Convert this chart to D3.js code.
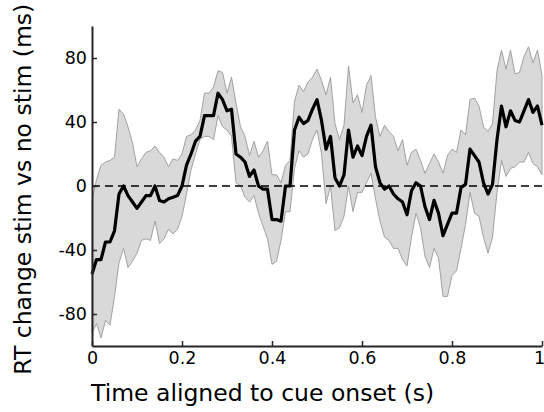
<!DOCTYPE html>
<html>
<head>
<meta charset="utf-8">
<script src="https://cdn.jsdelivr.net/npm/d3@7"></script>
<style>
  body { margin: 0; background: #fff; }
  svg { display: block; font-family: 'DejaVu Sans', sans-serif; }
</style>
</head>
<body>
<div id="chart"></div>
<script>
// time points, 0 to 1 s in 10 ms steps
var times = [
  0.00, 0.01, 0.02, 0.03, 0.04, 0.05, 0.06, 0.07, 0.08, 0.09,
  0.10, 0.11, 0.12, 0.13, 0.14, 0.15, 0.16, 0.17, 0.18, 0.19,
  0.20, 0.21, 0.22, 0.23, 0.24, 0.25, 0.26, 0.27, 0.28, 0.29,
  0.30, 0.31, 0.32, 0.33, 0.34, 0.35, 0.36, 0.37, 0.38, 0.39,
  0.40, 0.41, 0.42, 0.43, 0.44, 0.45, 0.46, 0.47, 0.48, 0.49,
  0.50, 0.51, 0.52, 0.53, 0.54, 0.55, 0.56, 0.57, 0.58, 0.59,
  0.60, 0.61, 0.62, 0.63, 0.64, 0.65, 0.66, 0.67, 0.68, 0.69,
  0.70, 0.71, 0.72, 0.73, 0.74, 0.75, 0.76, 0.77, 0.78, 0.79,
  0.80, 0.81, 0.82, 0.83, 0.84, 0.85, 0.86, 0.87, 0.88, 0.89,
  0.90, 0.91, 0.92, 0.93, 0.94, 0.95, 0.96, 0.97, 0.98, 0.99,
  1.00
];

// mean RT change (ms)
var meanRT = [
  -55, -46, -46, -35, -35, -28, -5, 0, -6, -10,
  -14, -10, -6, -6, 0, -9, -10, -8, -7, -6,
  0, 13, 20, 28, 31, 44, 44, 44, 58, 54,
  47, 48, 20, 18, 15, 6, 10, 0, -2, -2,
  -21, -21, -22, 0, 0, 35, 43, 39, 41, 48,
  54, 41, 23, 31, 5, 0, 7, 35, 18, 25,
  19, 31, 38, 12, 2, -2, 0, -5, -8, -10,
  -18, -3, 2, 0, -13, -21, -9, -17, -31, -24,
  -17, -17, -1, 1, 23, 19, 15, 2, -5, 1,
  29, 50, 37, 47, 41, 40, 47, 54, 46, 50,
  38
];

// upper edge of error band
var upperRT = [
  -9, 4, 13, 15, 16, 18, 48, 45, 37, 27,
  12, 17, 21, 22, 25, 21, 18, 12, 17, 16,
  20, 31, 32, 35, 41, 58, 58, 62, 72, 71,
  58, 68, 52, 37, 31, 19, 28, 18, 22, 28,
  7, 7, 2, 13, 16, 53, 63, 59, 65, 68,
  73, 66, 57, 68, 39, 29, 38, 75, 52, 57,
  46, 63, 69, 43, 31, 38, 34, 31, 22, 29,
  13, 21, 23, 16, 8, 14, 20, 15, 8, 19,
  23, 21, 35, 32, 54, 55, 50, 37, 34, 39,
  72, 85, 73, 85, 70, 71, 81, 87, 77, 85,
  69
];

// lower edge of error band
var lowerRT = [
  -92, -86, -95, -84, -87, -69, -48, -39, -51, -47,
  -42, -34, -33, -34, -22, -36, -33, -27, -30, -27,
  -19, -5, 10, 20, 29, 31, 31, 29, 44, 37,
  35, 31, 2, 0, -7, -10, -6, -17, -25, -33,
  -49, -47, -34, -16, -16, 11, 22, 18, 20, 29,
  35, 20, -11, 0, -28, -26, -19, 0, -16, -4,
  -4, 2, 8, -8, -22, -32, -34, -39, -39, -46,
  -50, -32, -17, -26, -44, -51, -39, -45, -69, -69,
  -56, -53, -39, -24, -4, -17, -19, -32, -42, -32,
  -4, 16, 6, 11, 12, 15, 15, 21, 14, 12,
  7
];

var xTicks = [0, 0.2, 0.4, 0.6, 0.8, 1];
var yTicks = [-80, -40, 0, 40, 80];

var width = 544;
var height = 412;
var margin = {top: 26, right: 2, bottom: 66, left: 92};
var axisColor = '#262626';

var points = times.map(function (t, i) {
  return {t: t, mean: meanRT[i], hi: upperRT[i], lo: lowerRT[i]};
});

var x = d3.scaleLinear()
  .domain([0, 1])
  .range([margin.left, width - margin.right]);

var y = d3.scaleLinear()
  .domain([-100, 100])
  .range([height - margin.bottom, margin.top]);

var svg = d3.select('#chart').append('svg')
  .attr('width', width)
  .attr('height', height);

// error band
svg.append('path')
  .datum(points)
  .attr('fill', '#d9d9d9')
  .attr('stroke', '#999')
  .attr('stroke-width', 0.9)
  .attr('d', d3.area()
    .x(function (d) { return x(d.t); })
    .y0(function (d) { return y(d.lo); })
    .y1(function (d) { return y(d.hi); }));

// zero reference
svg.append('line')
  .attr('x1', x(0))
  .attr('x2', x(1))
  .attr('y1', y(0))
  .attr('y2', y(0))
  .attr('stroke', '#000')
  .attr('stroke-width', 1.6)
  .attr('stroke-dasharray', '8,5');

// mean trace
svg.append('path')
  .datum(points)
  .attr('fill', 'none')
  .attr('stroke', '#000')
  .attr('stroke-width', 3.2)
  .attr('stroke-linejoin', 'round')
  .attr('d', d3.line()
    .x(function (d) { return x(d.t); })
    .y(function (d) { return y(d.mean); }));

// plain hyphen minus, like the original figure
var plainFormat = function (d) { return String(d); };

// axes, ticks pointing inward
var xAxis = svg.append('g')
  .attr('transform', 'translate(0,' + y(-100) + ')')
  .call(d3.axisBottom(x)
    .tickValues(xTicks)
    .tickFormat(plainFormat)
    .tickSizeInner(-5)
    .tickSizeOuter(0)
    .tickPadding(5));

var yAxis = svg.append('g')
  .attr('transform', 'translate(' + x(0) + ',0)')
  .call(d3.axisLeft(y)
    .tickValues(yTicks)
    .tickFormat(plainFormat)
    .tickSizeInner(-5)
    .tickSizeOuter(0)
    .tickPadding(5));

[xAxis, yAxis].forEach(function (g) {
  g.select('.domain')
    .attr('stroke', axisColor)
    .attr('stroke-width', 2);
  g.selectAll('.tick line')
    .attr('stroke', axisColor)
    .attr('stroke-width', 1.5);
  g.selectAll('.tick text')
    .attr('fill', '#000')
    .style('font-size', '17.5px')
    .style('font-family', 'DejaVu Sans, sans-serif');
});

xAxis.selectAll('.tick text').attr('dy', '0.75em');
// last label sits on the page edge, keep it inside
xAxis.selectAll('.tick text')
  .filter(function (d) { return d === 1; })
  .attr('dx', '-3');

svg.append('text')
  .attr('x', x(0) - 1)
  .attr('y', 401)
  .attr('fill', '#000')
  .style('font-size', '23.5px')
  .text('Time aligned to cue onset (s)');

svg.append('text')
  .attr('transform', 'translate(31,' + y(-2) + ') rotate(-90)')
  .attr('text-anchor', 'middle')
  .attr('fill', '#000')
  .style('font-size', '23.5px')
  .text('RT change stim vs no stim (ms)');
</script>
</body>
</html>
